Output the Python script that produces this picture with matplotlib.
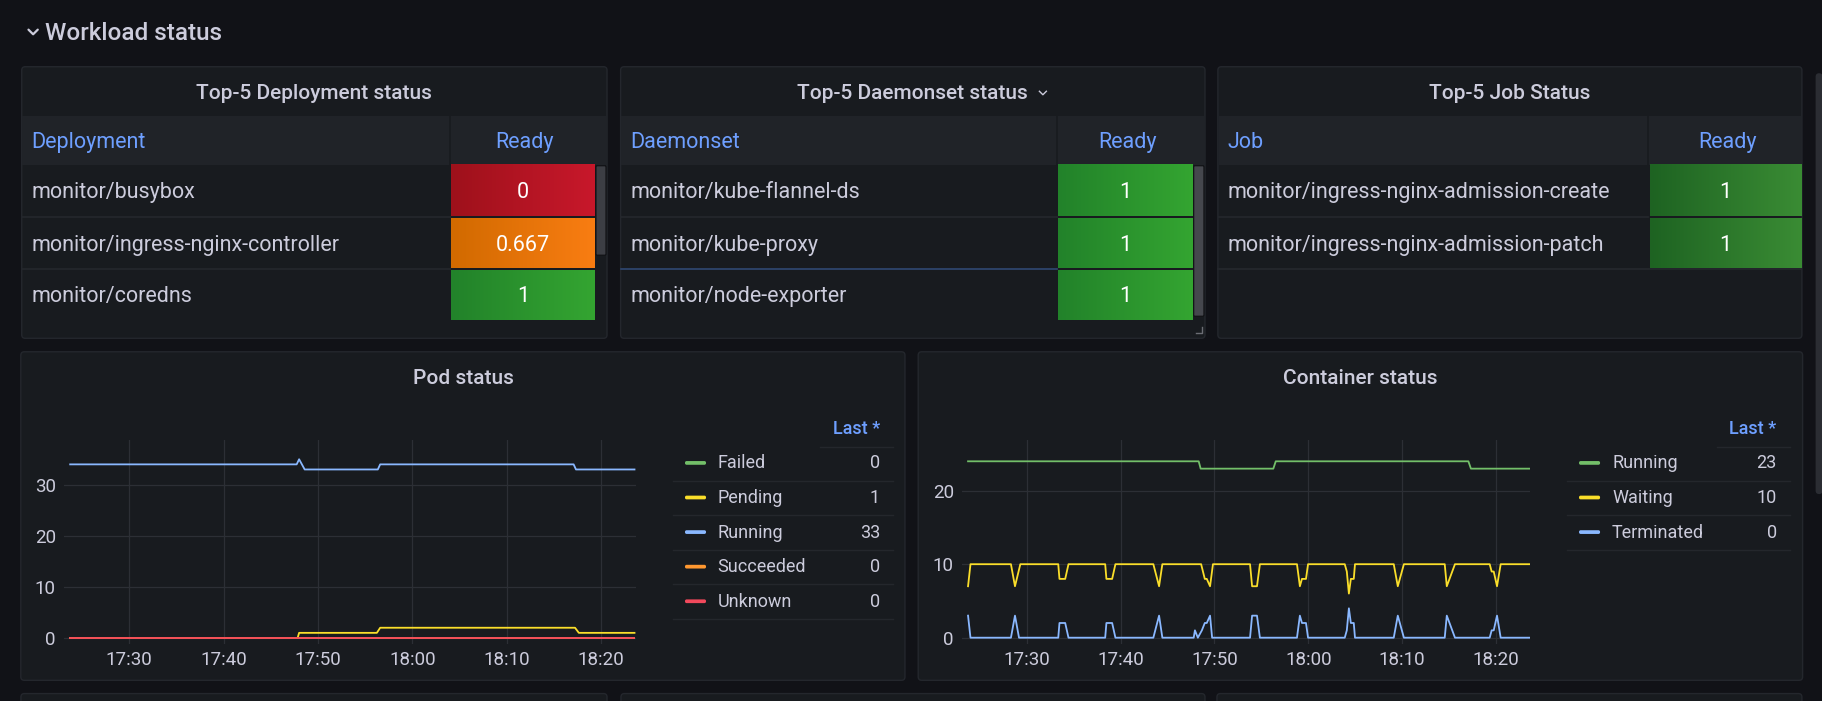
import numpy as np
import pandas as pd
import matplotlib
matplotlib.use("Agg")
import matplotlib.pyplot as plt
import matplotlib.dates as mdates
from matplotlib.patches import FancyBboxPatch, Rectangle
from matplotlib.colors import LinearSegmentedColormap

plt.rcParams['font.family'] = ['Roboto', 'DejaVu Sans']

# ---------------- data ----------------
section_title = "Workload status"

deploy_title = "Top-5 Deployment status"
deploy_col = "Deployment"
deploy_names = ["monitor/busybox", "monitor/ingress-nginx-controller", "monitor/coredns"]
deploy_ready = [0, 0.667, 1]

daemon_title = "Top-5 Daemonset status"
daemon_col = "Daemonset"
daemon_names = ["monitor/kube-flannel-ds", "monitor/kube-proxy", "monitor/node-exporter"]
daemon_ready = [1, 1, 1]

job_title = "Top-5 Job Status"
job_col = "Job"
job_names = ["monitor/ingress-nginx-admission-create", "monitor/ingress-nginx-admission-patch"]
job_ready = [1, 1]

start_time = "2024-01-01 17:23:45"

# Pod status (minutes after start_time, value)
pod_running_min = [0, 24.0, 24.26, 24.85, 32.6, 32.85, 53.35, 53.6, 59.8]
pod_running_val = [34, 34, 35, 33, 33, 34, 34, 33, 33]
pod_pending_min = [0, 24.1, 24.26, 32.5, 32.85, 53.5, 53.9, 59.8]
pod_pending_val = [0, 0, 1, 1, 2, 2, 1, 1]
pod_failed_min = [0, 59.8]
pod_failed_val = [0, 0]
pod_succeeded_min = [0, 59.8]
pod_succeeded_val = [0, 0]
pod_unknown_min = [0, 59.8]
pod_unknown_val = [0, 0]
pod_names = ["Failed", "Pending", "Running", "Succeeded", "Unknown"]
pod_last = [0, 1, 33, 0, 0]

# Container status
cont_running_min = [0, 24.57, 24.78, 32.52, 32.78, 53.30, 53.57, 59.78]
cont_running_val = [24, 24, 23, 23, 24, 24, 23, 23]
cont_waiting_min = [0, 0.26, 4.57, 5.0, 5.57, 9.61, 9.74, 10.35, 10.70, 14.61, 14.74, 15.35,
                    15.70, 19.74, 20.35, 20.70, 24.83, 25.22, 25.43, 25.78, 26.09, 30.04, 30.26,
                    30.78, 31.09, 35.04, 35.35, 35.57, 36.0, 36.22, 40.13, 40.35, 40.57, 40.78,
                    41.09, 41.22, 45.35, 45.78, 46.43, 50.78, 51.0, 51.87, 55.57, 55.78, 56.0,
                    56.35, 56.74, 59.78]
cont_waiting_val = [7, 10, 10, 7, 10, 10, 8, 8, 10, 10, 8, 8,
                    10, 10, 7, 10, 10, 8, 8, 7, 10, 10, 7,
                    7, 10, 10, 7, 8, 8, 10, 10, 9, 6, 8,
                    8, 10, 10, 7, 10, 10, 7, 10, 10, 9, 9,
                    7, 10, 10]
cont_term_min = [0, 0.26, 4.57, 5.0, 5.43, 9.61, 9.74, 10.35, 10.70, 14.61, 14.74, 15.35,
                 15.70, 19.74, 20.35, 20.70, 24.04, 24.17, 24.48, 24.91, 25.22, 25.43, 25.78,
                 26.0, 30.04, 30.26, 30.78, 31.09, 35.04, 35.35, 35.57, 36.0, 36.22, 40.13,
                 40.35, 40.57, 40.78, 41.09, 41.22, 45.35, 45.78, 46.43, 50.78, 51.0, 51.87,
                 55.57, 55.78, 56.0, 56.35, 56.74, 59.78]
cont_term_val = [3, 0, 0, 3, 0, 0, 2, 2, 0, 0, 2, 2,
                 0, 0, 3, 0, 0, 1, 0, 1, 2, 2, 3,
                 0, 0, 3, 3, 0, 0, 3, 2, 2, 0, 0,
                 1, 4, 2, 2, 0, 0, 3, 0, 0, 3, 0,
                 0, 1, 1, 3, 0, 0]
cont_names = ["Running", "Waiting", "Terminated"]
cont_last = [23, 10, 0]

# ---------------- style ----------------
W, H = 1568.0, 603.0
BG = "#111217"
PANEL = "#181b1f"
BORDER = "#24272d"
HEADER = "#202328"
TEXT = "#ccccdc"
LINK = "#6e9fff"
GRID = "#2c2f35"
SEP = "#24272c"

C_GREEN = "#73bf69"
C_YELLOW = "#fade2a"
C_BLUE = "#8ab8ff"
C_ORANGE = "#ff9830"
C_RED = "#f2495c"

FS_CELL = 15.5
FS_TITLE = 15.0
FS_LEG = 13.0
DY = 1.5  # vertical text nudge
DYL = 0.4  # legend nudge

fig = plt.figure(figsize=(18.22, 7.01), dpi=100)
fig.patch.set_facecolor(BG)
bg = fig.add_axes([0, 0, 1, 1])
bg.set_xlim(0, W)
bg.set_ylim(H, 0)
bg.set_autoscale_on(False)
bg.axis('off')


def panel(x0, y0, x1, y1):
    p = FancyBboxPatch((x0, y0), x1 - x0, y1 - y0,
                       boxstyle="round,pad=0,rounding_size=3",
                       fc=PANEL, ec=BORDER, lw=1.0, zorder=1)
    bg.add_patch(p)


def rect(x0, y0, x1, y1, color, z=2):
    bg.add_patch(Rectangle((x0, y0), x1 - x0, y1 - y0, fc=color, ec='none', zorder=z))


def grad_cell(x0, y0, x1, y1, c0, c1):
    cmap = LinearSegmentedColormap.from_list("g", [c0, c1])
    g = np.linspace(0, 1, 256).reshape(1, -1)
    bg.imshow(g, cmap=cmap, extent=[x0, x1, y1, y0], aspect='auto',
              interpolation='bilinear', zorder=3)


def cell_colors(v, green):
    if v < 0.5:
        return ("#9e111b", "#c8182b")
    if v < 1:
        return ("#d16a00", "#f97d12")
    return green


# Section title with chevron
bg.plot([24.5, 28.5, 32.5], [25.5, 29.5, 25.5], color=TEXT, lw=1.6, solid_capstyle='round')
bg.text(39, 27.5 + DY, section_title, color=TEXT, fontsize=17.5, fontweight='medium',
        ha='left', va='center')

row_tops = [142.0, 187.9, 232.4]
row_bots = [185.9, 230.9, 275.4]
row_seps = [186.9, 231.7]


def draw_table(x0, x1, split, title, col, names, values, green, cell_right,
               scroll=None, title_chev=False):
    panel(x0, 57.4, x1, 291.0)
    tx = (x0 + x1) / 2
    bg.text(tx, 79.0 + DY, title, color=TEXT, fontsize=FS_TITLE, fontweight='medium',
            ha='center', va='center', zorder=5)
    if title_chev:
        bg.plot([894.5, 897.5, 900.5], [78.5, 81.5, 78.5], color=TEXT, lw=1.0, zorder=5)
    rect(x0 + 0.6, 99.8, x1 - 0.6, 142.0, HEADER)
    bg.plot([split, split], [99.8, 142.0], color=PANEL, lw=1.2, zorder=4)
    bg.text(x0 + 8.5, 121.0 + DY, col, color=LINK, fontsize=FS_CELL, ha='left', va='center', zorder=5)
    cx = (split + 1.4 + cell_right) / 2
    bg.text(cx + 1.5, 121.0 + DY, "Ready", color=LINK, fontsize=FS_CELL, ha='center',
            va='center', zorder=5)
    n = len(names)
    for i in range(n):
        yt, yb = row_tops[i], row_bots[i]
        ym = (yt + yb) / 2
        bg.text(x0 + 8.5, ym + DY, names[i], color=TEXT, fontsize=FS_CELL,
                ha='left', va='center', zorder=5)
        c0, c1 = cell_colors(values[i], green)
        grad_cell(split + 1.4, yt, cell_right, yb, c0, c1)
        bg.text(cx, ym + DY, f"{values[i]:g}", color="#ffffff", fontsize=FS_CELL,
                ha='center', va='center', zorder=6)
    for k in range(min(n, 2)):
        bg.plot([x0 + 0.6, split], [row_seps[k], row_seps[k]], color=SEP, lw=1.3, zorder=4)
    if scroll is not None:
        sx0, sx1, sy0, sy1, sc = scroll
        bg.add_patch(FancyBboxPatch((sx0, sy0), sx1 - sx0, sy1 - sy0,
                                    boxstyle="round,pad=0,rounding_size=1",
                                    fc=sc, ec="#101114", lw=0.8, zorder=4))


GREEN_A = ("#22822a", "#34a531")
GREEN_B = ("#1e6322", "#3a8c34")

draw_table(18.7, 522.4, 386.9, deploy_title, deploy_col, deploy_names, deploy_ready,
           GREEN_A, 512.0, scroll=(512.9, 521.5, 142.6, 219.5, "#3c3e44"))
draw_table(534.1, 1037.0, 909.4, daemon_title, daemon_col, daemon_names, daemon_ready,
           GREEN_A, 1026.7, scroll=(1027.3, 1036.1, 142.6, 272.0, "#45474d"), title_chev=True)
# hover highlight line in daemonset table
bg.plot([534.6, 909.4], [231.7, 231.7], color="#2d4670", lw=1.2, zorder=4)
# resize corner
bg.plot([1034.2, 1034.2, 1029.5], [281.5, 286.3, 286.3], color="#6b6d74", lw=1.0, zorder=5)
draw_table(1048.1, 1550.7, 1418.4, job_title, job_col, job_names, job_ready,
           GREEN_B, 1550.2)
bg.plot([1048.6, 1550.2], [231.7, 231.7], color=SEP, lw=1.3, zorder=4)

# page scrollbar
bg.add_patch(FancyBboxPatch((1562.5, 63.0), 6.0, 362.0,
                            boxstyle="round,pad=0,rounding_size=3",
                            fc="#2b2d33", ec='none', zorder=2))

# bottom panels
panel(17.9, 302.6, 778.8, 585.2)
panel(790.2, 302.6, 1551.3, 585.2)
bg.text(399.0, 324.2 + DY, "Pod status", color=TEXT, fontsize=FS_TITLE, fontweight='medium',
        ha='center', va='center', zorder=5)
bg.text(1170.7, 324.2 + DY, "Container status", color=TEXT, fontsize=FS_TITLE,
        fontweight='medium', ha='center', va='center', zorder=5)
panel(18.0, 596.6, 522.4, 640)
panel(534.4, 596.6, 1037.0, 640)
panel(1047.3, 596.6, 1550.7, 640)

t0 = pd.Timestamp(start_time)


def times(mins):
    return t0 + pd.to_timedelta(np.asarray(mins, dtype=float), unit="min")


def make_ax(x0, x1, y0, y1):
    a = fig.add_axes([x0 / W, 1 - y1 / H, (x1 - x0) / W, (y1 - y0) / H])
    a.set_facecolor('none')
    for s in a.spines.values():
        s.set_visible(False)
    a.tick_params(length=0, colors=TEXT, labelsize=13.5)
    a.tick_params(axis='y', pad=6)
    a.tick_params(axis='x', pad=5.5)
    a.grid(True, color=GRID, lw=0.9)
    a.set_axisbelow(True)
    a.xaxis.set_major_locator(mdates.MinuteLocator(byminute=[0, 10, 20, 30, 40, 50]))
    a.xaxis.set_major_formatter(mdates.DateFormatter('%H:%M'))
    return a


ax1 = make_ax(55.2, 547.5, 378.1, 553.6)
ax1.plot(times(pod_failed_min), pod_failed_val, color=C_GREEN, lw=1.3)
ax1.plot(times(pod_pending_min), pod_pending_val, color=C_YELLOW, lw=1.3)
ax1.plot(times(pod_running_min), pod_running_val, color=C_BLUE, lw=1.3)
ax1.plot(times(pod_succeeded_min), pod_succeeded_val, color=C_ORANGE, lw=1.3)
ax1.plot(times(pod_unknown_min), pod_unknown_val, color=C_RED, lw=1.3)
ax1.set_xlim(t0 + pd.Timedelta(minutes=-0.64), t0 + pd.Timedelta(minutes=59.98))
ax1.set_ylim(-1.1, 38.86)
ax1.set_yticks([0, 10, 20, 30])

ax2 = make_ax(828.0, 1317.0, 378.1, 553.6)
ax2.plot(times(cont_running_min), cont_running_val, color=C_GREEN, lw=1.3)
ax2.plot(times(cont_waiting_min), cont_waiting_val, color=C_YELLOW, lw=1.3)
ax2.plot(times(cont_term_min), cont_term_val, color=C_BLUE, lw=1.3)
ax2.set_xlim(t0 + pd.Timedelta(minutes=-0.63), t0 + pd.Timedelta(minutes=59.9))
ax2.set_ylim(-0.8, 26.96)
ax2.set_yticks([0, 10, 20])


def draw_legend(names, colors, lasts, xl0, xl1, xh0, sw0, sw1, lx, vx):
    bg.text(vx, 368.6 + DYL, "Last *", color=LINK, fontsize=FS_LEG, fontweight='medium',
            ha='right', va='center', zorder=5)
    bg.plot([xh0, xl1], [384.4, 384.4], color=SEP, lw=1.0, zorder=4)
    for i, (nm, c, v) in enumerate(zip(names, colors, lasts)):
        y = 398.2 + i * 29.75
        bg.add_patch(FancyBboxPatch((sw0, y - 1.6), sw1 - sw0, 3.2,
                                    boxstyle="round,pad=0,rounding_size=1.4",
                                    fc=c, ec='none', zorder=5))
        bg.text(lx, y + DYL, nm, color=TEXT, fontsize=FS_LEG, ha='left', va='center', zorder=5)
        bg.text(vx, y + DYL, f"{v:g}", color=TEXT, fontsize=FS_LEG, ha='right', va='center',
                zorder=5)
        ys = 413.7 + i * 29.6
        bg.plot([xl0, xl1], [ys, ys], color=SEP, lw=1.0, zorder=4)


draw_legend(pod_names, [C_GREEN, C_YELLOW, C_BLUE, C_ORANGE, C_RED], pod_last,
            578.9, 768.8, 705.7, 589.5, 607.6, 617.6, 757.3)
draw_legend(cont_names, [C_GREEN, C_YELLOW, C_BLUE], cont_last,
            1348.3, 1540.4, 1477.3, 1358.9, 1377.0, 1387.3, 1529.0)

fig.savefig("out.png", dpi=100, facecolor=BG)
